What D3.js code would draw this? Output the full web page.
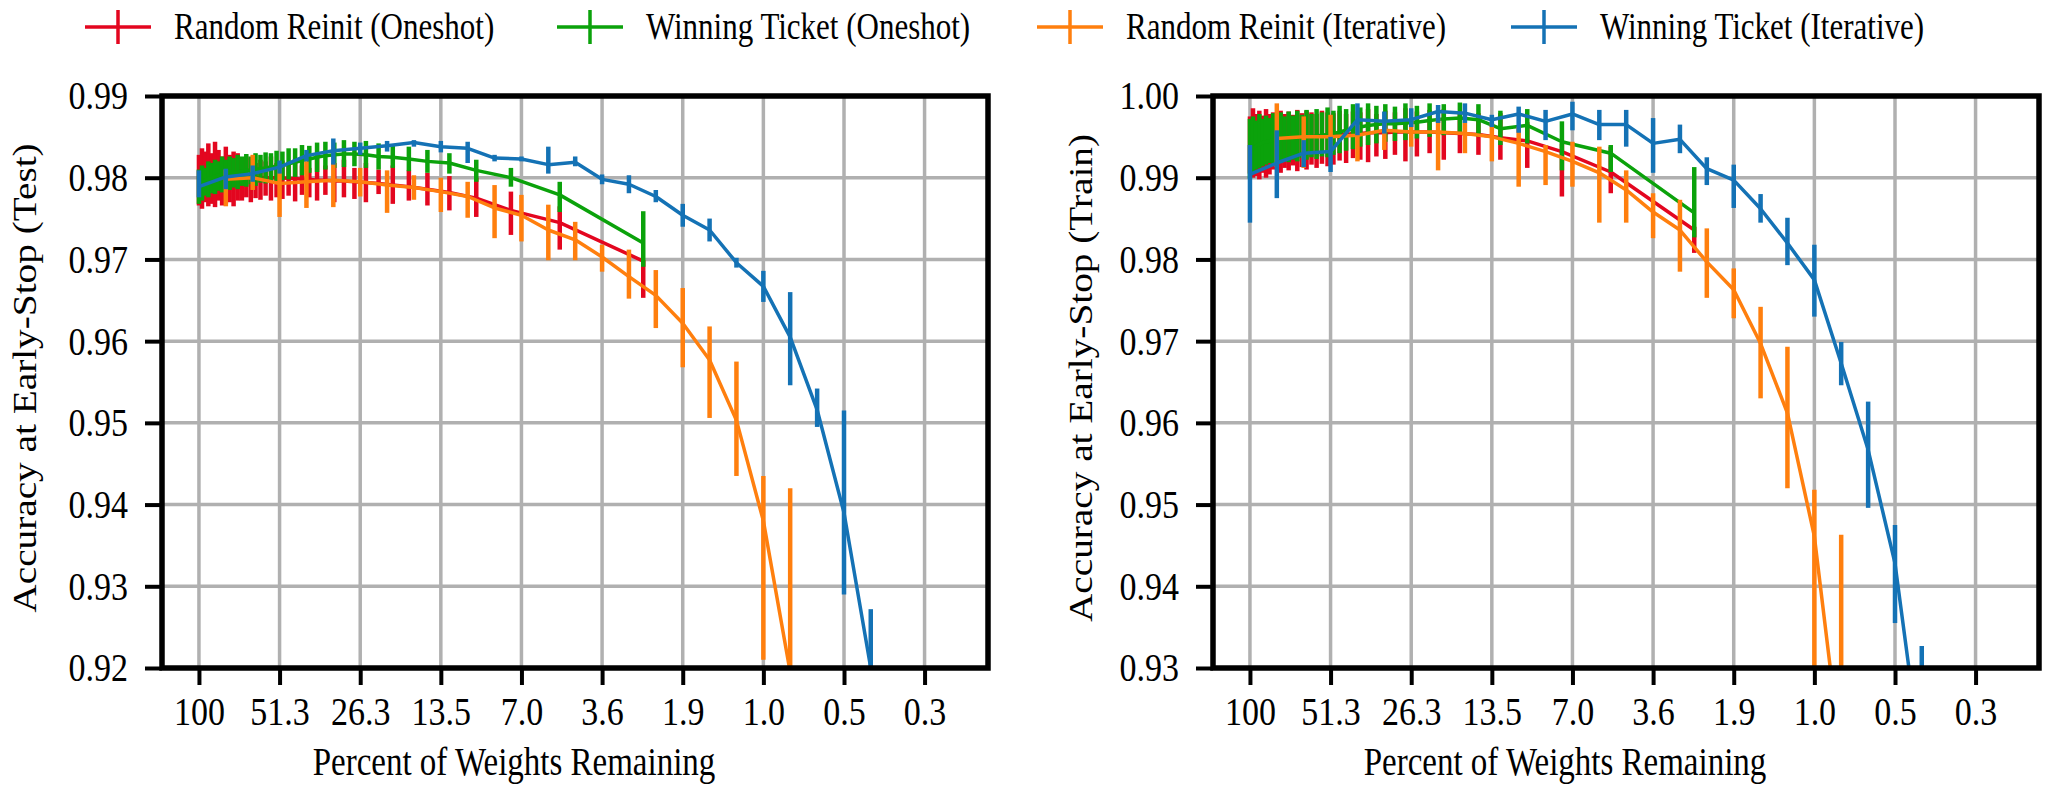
<!DOCTYPE html>
<html>
<head>
<meta charset="utf-8">
<script src="https://cdn.jsdelivr.net/npm/d3@7"></script>
<style>
  body { margin: 0; background: #fff; }
  svg text { font-family: "Liberation Serif", "Times New Roman", serif; fill: #000; }
</style>
</head>
<body>
<svg id="chart" width="2048" height="786"></svg>
<script>
// x axis: percent of weights remaining (log spaced pruning rounds)
const tickPct = [100, 51.2, 26.21, 13.42, 6.872, 3.518, 1.801, 0.922, 0.472, 0.2418];
const tickLabels = ['100', '51.3', '26.3', '13.5', '7.0', '3.6', '1.9', '1.0', '0.5', '0.3'];

// iterative pruning rounds (20% per round)
const iterPct = [100, 80, 64, 51.2, 40.96, 32.77, 26.21, 20.97, 16.78, 13.42, 10.74, 8.59, 6.872,
  5.498, 4.398, 3.518, 2.815, 2.252, 1.801, 1.441, 1.153, 0.922, 0.738, 0.590, 0.472, 0.378];
// oneshot pruning levels
const oneshotPct = [100, 97.5, 95, 92.5, 90, 87.5, 85, 82.5, 80, 77.5, 75, 72.5, 70, 67.5, 65, 62.5,
  60, 57.5, 55, 52.5, 50, 47.5, 45, 42.5, 40, 37.5, 35, 32.5, 30, 27.5, 25, 22.5, 20, 17.5, 15, 12.5,
  10, 7.5, 5, 2.5];

const seriesNames = ['Random Reinit (Oneshot)', 'Winning Ticket (Oneshot)', 'Random Reinit (Iterative)', 'Winning Ticket (Iterative)'];
const seriesColors = ['#e3061f', '#0ba20b', '#ff7f0e', '#1472b5'];

// ---- Test accuracy (left panel) ----
const testRandOneMean = [.9795,.9794,.9796,.9795,.9797,.9796,.9797,.9798,.9798,.9798,
  .9799,.9799,.9799,.9800,.9800,.9800,.9800,.9800,.9800,.9800,
  .9800,.9799,.9799,.9798,.9798,.9797,.9797,.9796,.9796,.9795,
  .9794,.9793,.9791,.9789,.9786,.9782,.9775,.9760,.9745,.9698];
const testRandOneLo = [.9766,.9762,.9770,.9765,.9768,.9764,.9772,.9766,.9768,.9770,
  .9765,.9772,.9772,.9776,.9770,.9775,.9773,.9778,.9772,.9776,
  .9774,.9778,.9771,.9779,.9776,.9772,.9779,.9770,.9776,.9774,
  .9770,.9780,.9768,.9772,.9766,.9760,.9752,.9730,.9712,.9653];
const testRandOneHi = [.9828,.9836,.9832,.9842,.9830,.9844,.9834,.9826,.9838,.9828,
  .9832,.9830,.9820,.9826,.9824,.9818,.9822,.9820,.9826,.9818,
  .9821,.9816,.9823,.9815,.9812,.9824,.9815,.9818,.9822,.9812,
  .9818,.9810,.9815,.9809,.9806,.9802,.9800,.9783,.9765,.9699];

const testWinOneMean = [.9792,.9795,.9797,.9799,.9800,.9802,.9803,.9804,.9805,.9806,
  .9806,.9807,.9808,.9809,.9809,.9810,.9811,.9812,.9813,.9814,
  .9815,.9817,.9819,.9821,.9823,.9825,.9827,.9828,.9829,.9829,
  .9828,.9826,.9825,.9823,.9820,.9818,.9809,.9800,.9779,.9720];
const testWinOneLo = [.9768,.9772,.9778,.9776,.9781,.9780,.9784,.9782,.9786,.9785,
  .9788,.9786,.9790,.9789,.9792,.9790,.9794,.9793,.9795,.9796,
  .9797,.9798,.9801,.9803,.9806,.9807,.9810,.9812,.9813,.9814,
  .9812,.9810,.9812,.9808,.9806,.9805,.9795,.9789,.9758,.9691];
const testWinOneHi = [.9810,.9815,.9812,.9820,.9818,.9822,.9820,.9826,.9822,.9826,
  .9824,.9828,.9826,.9829,.9826,.9830,.9828,.9831,.9830,.9833,
  .9832,.9836,.9836,.9840,.9839,.9843,.9844,.9843,.9846,.9844,
  .9845,.9842,.9839,.9838,.9834,.9830,.9822,.9812,.9795,.9759];

// iterative random reinit starts at round 1
const testRandIterMean = [.9798,.9800,.9793,.9795,.9797,.9795,.9791,.9788,.9783,.9777,.9763,
  .9754,.9736,.9724,.9703,.9679,.9656,.9622,.9577,.9503,.9380,.9195];
const testRandIterLo = [.9765,.9785,.9752,.9763,.9764,.9777,.9757,.9773,.9758,.9751,.9726,
  .9722,.9699,.9699,.9685,.9652,.9616,.9568,.9506,.9435,.9210,.8960];
const testRandIterHi = [.9810,.9828,.9812,.9820,.9818,.9812,.9809,.9803,.9800,.9795,.9791,
  .9779,.9767,.9746,.9718,.9712,.9687,.9665,.9618,.9575,.9435,.9420];

const testWinIterMean = [.9789,.9801,.9805,.9813,.9827,.9833,.9836,.9839,.9843,.9838,.9836,.9824,.9823,
  .9816,.9819,.9798,.9792,.9777,.9754,.9736,.9696,.9667,.9605,.9516,.9390,.9200];
const testWinIterLo = [.9776,.9786,.9795,.9805,.9820,.9816,.9828,.9832,.9838,.9831,.9818,.9820,.9820,
  .9805,.9814,.9792,.9781,.9770,.9740,.9722,.9690,.9648,.9546,.9495,.9290,.9125];
const testWinIterHi = [.9809,.9811,.9815,.9821,.9834,.9848,.9843,.9845,.9846,.9845,.9844,.9828,.9826,
  .9838,.9826,.9804,.9803,.9785,.9768,.9750,.9702,.9686,.9660,.9542,.9515,.9272];

// ---- Train accuracy (right panel) ----
const trainRandOneMean = [.9940,.9941,.9942,.9943,.9944,.9945,.9946,.9946,.9947,.9947,
  .9948,.9948,.9949,.9949,.9950,.9950,.9950,.9951,.9951,.9952,
  .9952,.9953,.9953,.9954,.9954,.9955,.9955,.9955,.9956,.9956,
  .9956,.9956,.9955,.9954,.9953,.9949,.9945,.9932,.9907,.9836];
const trainRandOneLo = [.9905,.9900,.9902,.9898,.9906,.9900,.9904,.9910,.9914,.9906,
  .9912,.9909,.9915,.9908,.9913,.9910,.9916,.9912,.9917,.9914,
  .9916,.9921,.9918,.9924,.9922,.9919,.9926,.9923,.9928,.9920,
  .9926,.9930,.9922,.9930,.9928,.9922,.9912,.9877,.9881,.9808];
const trainRandOneHi = [.9975,.9985,.9978,.9982,.9976,.9984,.9978,.9980,.9976,.9982,
  .9978,.9981,.9977,.9983,.9979,.9982,.9980,.9978,.9982,.9980,
  .9979,.9982,.9978,.9981,.9980,.9984,.9978,.9982,.9980,.9985,
  .9981,.9983,.9984,.9981,.9979,.9979,.9968,.9942,.9938,.9840];

const trainWinOneMean = [.9932,.9936,.9939,.9941,.9943,.9944,.9945,.9946,.9947,.9947,
  .9948,.9948,.9949,.9949,.9950,.9950,.9950,.9951,.9952,.9953,
  .9954,.9956,.9958,.9960,.9962,.9964,.9965,.9966,.9966,.9967,
  .9968,.9970,.9972,.9973,.9971,.9960,.9964,.9944,.9930,.9857];
const trainWinOneLo = [.9899,.9905,.9910,.9912,.9914,.9916,.9918,.9916,.9920,.9918,
  .9921,.9919,.9922,.9920,.9924,.9922,.9925,.9923,.9926,.9925,
  .9928,.9930,.9933,.9935,.9938,.9940,.9942,.9944,.9945,.9946,
  .9948,.9950,.9952,.9954,.9950,.9940,.9942,.9909,.9907,.9827];
const trainWinOneHi = [.9972,.9975,.9970,.9978,.9972,.9976,.9973,.9979,.9974,.9980,
  .9975,.9981,.9976,.9982,.9977,.9983,.9978,.9984,.9980,.9986,
  .9982,.9988,.9984,.9990,.9986,.9991,.9988,.9990,.9987,.9991,
  .9988,.9991,.9990,.9992,.9990,.9982,.9984,.9969,.9940,.9913];

const trainRandIterMean = [.9948,.9950,.9950,.9952,.9958,.9956,.9956,.9954,.9950,.9942,.9932,
  .9920,.9906,.9885,.9858,.9836,.9797,.9763,.9697,.9612,.9461,.9190];
const trainRandIterLo = [.9913,.9912,.9930,.9920,.9934,.9938,.9909,.9930,.9920,.9889,.9891,
  .9889,.9845,.9845,.9826,.9785,.9753,.9728,.9630,.9520,.9250,.9000];
const trainRandIterHi = [.9991,.9975,.9977,.9965,.9969,.9972,.9973,.9967,.9967,.9962,.9940,
  .9944,.9938,.9909,.9881,.9873,.9838,.9789,.9742,.9693,.9518,.9463];

const trainWinIterMean = [.9904,.9918,.9930,.9932,.9971,.9969,.9971,.9981,.9979,.9971,.9978,.9969,.9978,
  .9965,.9965,.9942,.9947,.9911,.9897,.9862,.9820,.9775,.9673,.9567,.9428,.9182];
const trainWinIterLo = [.9845,.9875,.9913,.9907,.9952,.9954,.9962,.9967,.9967,.9962,.9955,.9946,.9958,
  .9946,.9938,.9906,.9930,.9891,.9863,.9845,.9793,.9730,.9646,.9496,.9355,.9050];
const trainWinIterHi = [.9940,.9958,.9946,.9950,.9991,.9981,.9985,.9989,.9991,.9977,.9987,.9983,.9993,
  .9983,.9983,.9973,.9965,.9925,.9916,.9880,.9851,.9818,.9699,.9626,.9475,.9327];

const testYTicks = [0.92, 0.93, 0.94, 0.95, 0.96, 0.97, 0.98, 0.99];
const trainYTicks = [0.93, 0.94, 0.95, 0.96, 0.97, 0.98, 0.99, 1.00];

const svg = d3.select('#chart');
const TOP = 96, BOTTOM = 668;
const GRID = '#b0b0b0';
const STRETCH = 1.19; // text in the figure is drawn taller than wide

function makeSeries(pct, mean, lo, hi, color) {
  return pct.map((p, i) => ({ p, m: mean[i], lo: lo[i], hi: hi[i], color }));
}

function drawPanel(id, left, right, yDomain, yTicks, yTitle, yTitleX, series) {
  const x = d3.scaleLog().domain([135.9, 0.1428]).range([left, right]);
  const y = d3.scaleLinear().domain(yDomain).range([BOTTOM, TOP]);
  const g = svg.append('g');

  g.append('clipPath').attr('id', 'clip-' + id)
    .append('rect').attr('x', left).attr('y', TOP).attr('width', right - left).attr('height', BOTTOM - TOP);

  // grid
  g.append('g').selectAll('line').data(tickPct).enter().append('line')
    .attr('x1', d => x(d)).attr('x2', d => x(d)).attr('y1', TOP).attr('y2', BOTTOM)
    .attr('stroke', GRID).attr('stroke-width', 3.5);
  g.append('g').selectAll('line').data(yTicks).enter().append('line')
    .attr('x1', left).attr('x2', right).attr('y1', d => y(d)).attr('y2', d => y(d))
    .attr('stroke', GRID).attr('stroke-width', 3.5);

  // series: error bars first, then the mean line
  const plot = g.append('g').attr('clip-path', `url(#clip-${id})`);
  const line = d3.line().x(d => x(d.p)).y(d => y(d.m));
  series.forEach(s => {
    const sg = plot.append('g');
    sg.selectAll('line').data(s).enter().append('line')
      .attr('x1', d => x(d.p)).attr('x2', d => x(d.p))
      .attr('y1', d => y(d.lo)).attr('y2', d => y(d.hi))
      .attr('stroke', d => d.color).attr('stroke-width', 4.5);
    sg.append('path').datum(s).attr('d', line)
      .attr('fill', 'none').attr('stroke', s[0].color).attr('stroke-width', 3.5)
      .attr('stroke-linejoin', 'round');
  });

  // axes
  const xAxis = g.append('g').attr('transform', `translate(0,${BOTTOM})`)
    .call(d3.axisBottom(x).tickValues(tickPct).tickFormat((d, i) => tickLabels[i])
      .tickSize(17).tickSizeOuter(0).tickPadding(7));
  const yAxis = g.append('g').attr('transform', `translate(${left},0)`)
    .call(d3.axisLeft(y).tickValues(yTicks).tickFormat(d3.format('.2f'))
      .tickSize(17).tickSizeOuter(0).tickPadding(17));
  [xAxis, yAxis].forEach(a => {
    a.select('.domain').remove();
    a.selectAll('line').attr('stroke', '#000').attr('stroke-width', 4);
    a.selectAll('text').attr('font-size', 34).attr('font-family', 'Liberation Serif')
      .attr('transform', `scale(1,${STRETCH})`);
  });

  // spines
  g.append('rect').attr('x', left).attr('y', TOP).attr('width', right - left).attr('height', BOTTOM - TOP)
    .attr('fill', 'none').attr('stroke', '#000').attr('stroke-width', 5.5);

  // axis titles
  g.append('text').attr('transform', `translate(${(left + right) / 2 - 61},775) scale(1,${STRETCH})`)
    .attr('text-anchor', 'middle').attr('font-size', 33).text('Percent of Weights Remaining');
  g.append('text').attr('transform', `translate(${yTitleX},378) scale(1,${STRETCH}) rotate(-90)`)
    .attr('text-anchor', 'middle').attr('font-size', 33).text(yTitle);
}

drawPanel('test', 162, 988, [0.92, 0.99], testYTicks, 'Accuracy at Early-Stop (Test)', 36, [
  makeSeries(oneshotPct, testRandOneMean, testRandOneLo, testRandOneHi, seriesColors[0]),
  makeSeries(oneshotPct, testWinOneMean, testWinOneLo, testWinOneHi, seriesColors[1]),
  makeSeries(iterPct.slice(1, 23), testRandIterMean, testRandIterLo, testRandIterHi, seriesColors[2]),
  makeSeries(iterPct, testWinIterMean, testWinIterLo, testWinIterHi, seriesColors[3])
]);
drawPanel('train', 1213, 2039, [0.93, 1.00], trainYTicks, 'Accuracy at Early-Stop (Train)', 1092, [
  makeSeries(oneshotPct, trainRandOneMean, trainRandOneLo, trainRandOneHi, seriesColors[0]),
  makeSeries(oneshotPct, trainWinOneMean, trainWinOneLo, trainWinOneHi, seriesColors[1]),
  makeSeries(iterPct.slice(1, 23), trainRandIterMean, trainRandIterLo, trainRandIterHi, seriesColors[2]),
  makeSeries(iterPct, trainWinIterMean, trainWinIterLo, trainWinIterHi, seriesColors[3])
]);

// legend
const legendX = [85, 557, 1037, 1511];
const legendY = 27;
const leg = svg.append('g');
seriesNames.forEach((name, i) => {
  const x0 = legendX[i];
  leg.append('line').attr('x1', x0).attr('x2', x0 + 66).attr('y1', legendY).attr('y2', legendY)
    .attr('stroke', seriesColors[i]).attr('stroke-width', 3.5);
  leg.append('line').attr('x1', x0 + 33).attr('x2', x0 + 33).attr('y1', legendY - 17).attr('y2', legendY + 17)
    .attr('stroke', seriesColors[i]).attr('stroke-width', 3.5);
  leg.append('text').attr('transform', `translate(${x0 + 89},${legendY + 12}) scale(1,${STRETCH})`)
    .attr('font-size', 31).text(name);
});
</script>
</body>
</html>
